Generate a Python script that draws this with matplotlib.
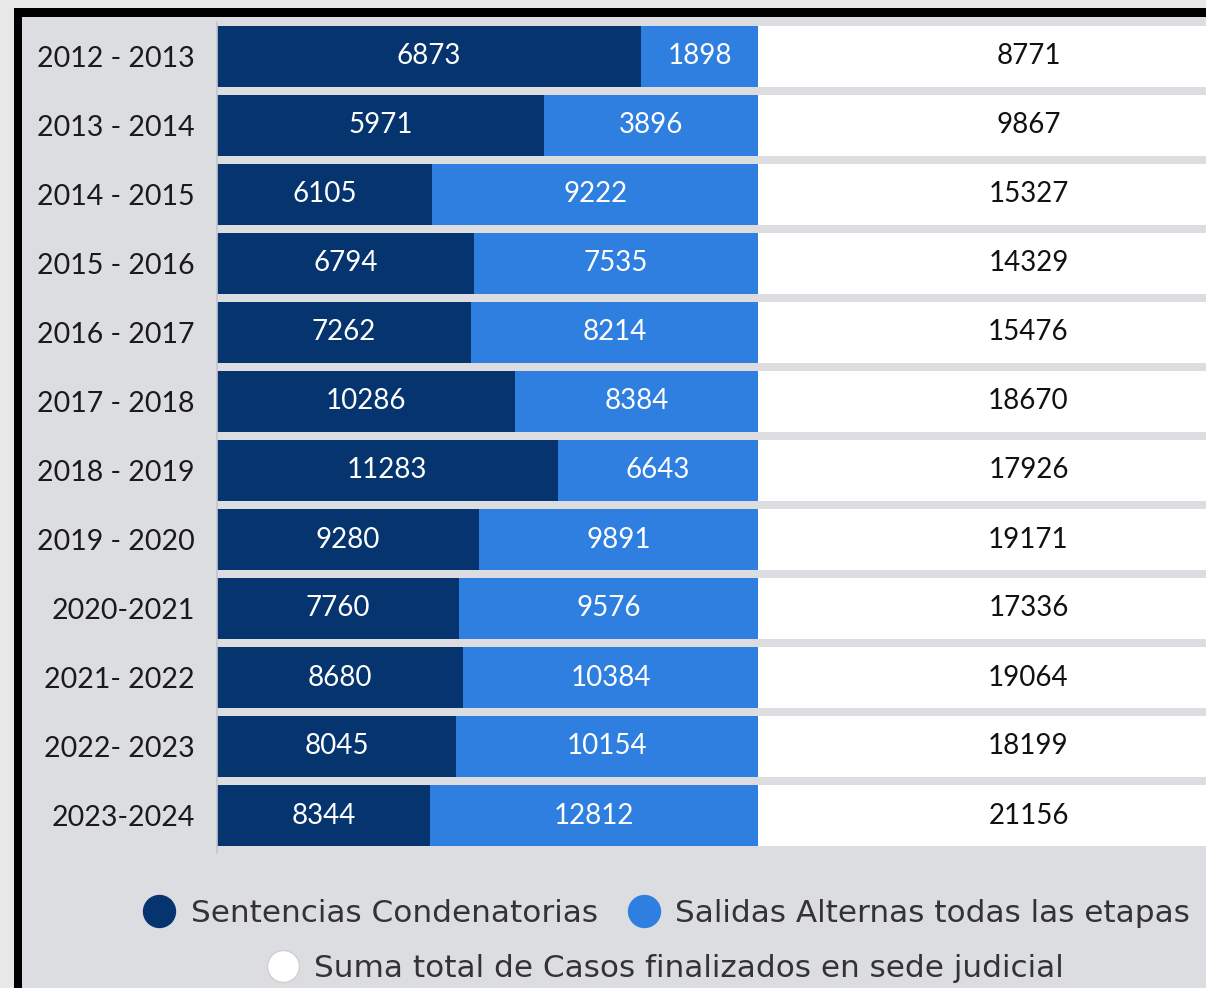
import matplotlib.pyplot as plt
from matplotlib.patches import Rectangle
from matplotlib.lines import Line2D

periodos = ["2012 - 2013", "2013 - 2014", "2014 - 2015", "2015 - 2016", "2016 - 2017",
            "2017 - 2018", "2018 - 2019", "2019 - 2020", "2020-2021", "2021- 2022",
            "2022- 2023", "2023-2024"]
sentencias = [6873, 5971, 6105, 6794, 7262, 10286, 11283, 9280, 7760, 8680, 8045, 8344]
salidas = [1898, 3896, 9222, 7535, 8214, 8384, 6643, 9891, 9576, 10384, 10154, 12812]
totales = [8771, 9867, 15327, 14329, 15476, 18670, 17926, 19171, 17336, 19064, 18199, 21156]

c_sent = "#05346f"
c_sal = "#2e7fe0"
c_tot = "#ffffff"
bg = "#dcdde1"

W, H = 1206, 988
fig = plt.figure(figsize=(W / 100, H / 100), dpi=100)
fig.patch.set_facecolor("#e8e8e8")
# black frame (left and top) and inner panel
fig.patches.append(Rectangle((14 / W, 0), 1, 1 - 8 / H, transform=fig.transFigure,
                             facecolor="black", edgecolor="none", zorder=-10))
fig.patches.append(Rectangle((22 / W, 0), 1, 1 - 17 / H, transform=fig.transFigure,
                             facecolor=bg, edgecolor="none", zorder=-9))

ax = fig.add_axes([217 / W, 1 - 850 / H, 1082 / W, (850 - 22) / H])
ax.set_facecolor("none")

rows = list(range(len(periodos)))
fila = [s + a + t for s, a, t in zip(sentencias, salidas, totales)]
p_sent = [s / f for s, f in zip(sentencias, fila)]
p_sal = [a / f for a, f in zip(salidas, fila)]
p_tot = [t / f for t, f in zip(totales, fila)]
left2 = p_sent
left3 = [a + b for a, b in zip(p_sent, p_sal)]

h = 0.885
b1 = ax.barh(rows, p_sent, height=h, color=c_sent, edgecolor="none")
b2 = ax.barh(rows, p_sal, left=left2, height=h, color=c_sal, edgecolor="none")
b3 = ax.barh(rows, p_tot, left=left3, height=h, color=c_tot, edgecolor="none")

lab_font = "Lato"
ax.bar_label(b1, labels=[str(v) for v in sentencias], label_type="center",
             color="white", fontsize=20, family=lab_font)
ax.bar_label(b2, labels=[str(v) for v in salidas], label_type="center",
             color="white", fontsize=20, family=lab_font)
ax.bar_label(b3, labels=[str(v) for v in totales], label_type="center",
             color="#111111", fontsize=20, family=lab_font)

ax.set_xlim(0, 1)
ax.set_ylim(len(periodos) - 0.5, -0.5)
ax.set_yticks(rows)
ax.set_yticklabels(periodos, fontsize=20.5, family=lab_font, color="#1a1a1a")
ax.tick_params(axis="y", length=0, pad=16)
ax.set_xticks([])
for s in ["top", "right", "bottom"]:
    ax.spines[s].set_visible(False)
ax.spines["left"].set_color("#c4c7cc")
ax.spines["left"].set_linewidth(1.2)
ax.spines["left"].set_bounds(len(periodos) - 0.5 + 0.05, -0.5)

def handle(c):
    return Line2D([], [], marker="o", linestyle="none", markersize=23,
                  markerfacecolor=c, markeredgecolor="#d0d0d0" if c == c_tot else c)

leg1 = fig.legend([handle(c_sent), handle(c_sal)],
                  ["Sentencias Condenatorias", "Salidas Alternas todas las etapas"],
                  ncol=2, loc="center", bbox_to_anchor=(667 / W, 1 - 913 / H),
                  frameon=False, fontsize=22.4, handletextpad=0.5, columnspacing=1.0,
                  labelcolor="#333333", handlelength=1.0)
leg2 = fig.legend([handle(c_tot)], ["Suma total de Casos finalizados en sede judicial"],
                  loc="center", bbox_to_anchor=(666 / W, 1 - 968 / H),
                  frameon=False, fontsize=22.4, handletextpad=0.5,
                  labelcolor="#333333", handlelength=1.0)

fig.savefig("out.png", dpi=100, facecolor=fig.get_facecolor())
